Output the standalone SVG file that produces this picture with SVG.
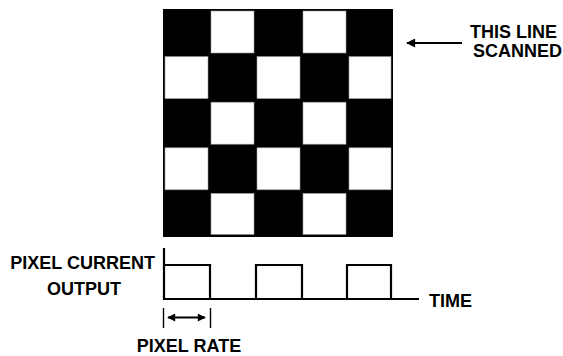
<svg xmlns="http://www.w3.org/2000/svg" width="563" height="356" viewBox="0 0 563 356">
<defs>
<style>
.t{font-family:"Liberation Sans",Arial,sans-serif;font-weight:bold;font-size:18px;fill:#000}
.w{fill:#fff;stroke:#999;stroke-width:0.6}
.ln{stroke:#000;stroke-width:2.2;fill:none}
.thin{stroke:#000;stroke-width:2;fill:none}
</style>
<marker id="ah" viewBox="0 0 10 10" refX="9" refY="5" markerWidth="11" markerHeight="8" markerUnits="userSpaceOnUse" orient="auto-start-reverse">
<path d="M0,0 L10,5 L0,10 z" fill="#000"/>
</marker>
<marker id="ah2" viewBox="0 0 10 10" refX="9" refY="5" markerWidth="14" markerHeight="9" markerUnits="userSpaceOnUse" orient="auto-start-reverse">
<path d="M0,0 L10,5 L0,10 z" fill="#000"/>
</marker>
</defs>
<rect width="563" height="356" fill="#fff"/>
<g id="checkerboard">
<rect x="163" y="9" width="230" height="228" fill="#000"/>
<rect class="w" x="211" y="11" width="43" height="42"/>
<rect class="w" x="303" y="11" width="43" height="42"/>
<rect class="w" x="165" y="56.6" width="43" height="42"/>
<rect class="w" x="257" y="56.6" width="43" height="42"/>
<rect class="w" x="349" y="56.6" width="42" height="42"/>
<rect class="w" x="211" y="102.2" width="43" height="42"/>
<rect class="w" x="303" y="102.2" width="43" height="42"/>
<rect class="w" x="165" y="147.8" width="43" height="42"/>
<rect class="w" x="257" y="147.8" width="43" height="42"/>
<rect class="w" x="349" y="147.8" width="42" height="42"/>
<rect class="w" x="211" y="193.4" width="43" height="41"/>
<rect class="w" x="303" y="193.4" width="43" height="41"/>
</g>
<g id="waveform">
<path class="ln" d="M164,248 V299 H419"/>
<path class="ln" d="M164,265 H210 V299 M256,299 V265 H302 V299 M347,299 V265 H391 V299"/>
</g>
<g id="connectors">
<line class="thin" x1="462" y1="43" x2="407" y2="43" marker-end="url(#ah2)"/>
<line x1="163.5" y1="308" x2="163.5" y2="328" stroke="#000" stroke-width="1.4"/>
<line x1="210.5" y1="308" x2="210.5" y2="328" stroke="#000" stroke-width="1.4"/>
<line class="thin" x1="168" y1="317.5" x2="205" y2="317.5" marker-start="url(#ah)" marker-end="url(#ah)"/>
</g>
<g id="labels">
<text class="t" x="155" y="269" text-anchor="end">PIXEL CURRENT</text>
<text class="t" x="84" y="295" text-anchor="middle">OUTPUT</text>
<text class="t" x="429" y="306.5" font-size="17">TIME</text>
<text class="t" x="470" y="38">THIS LINE</text>
<text class="t" x="473" y="57">SCANNED</text>
<text class="t" x="189" y="352" text-anchor="middle">PIXEL RATE</text>
</g>
</svg>
